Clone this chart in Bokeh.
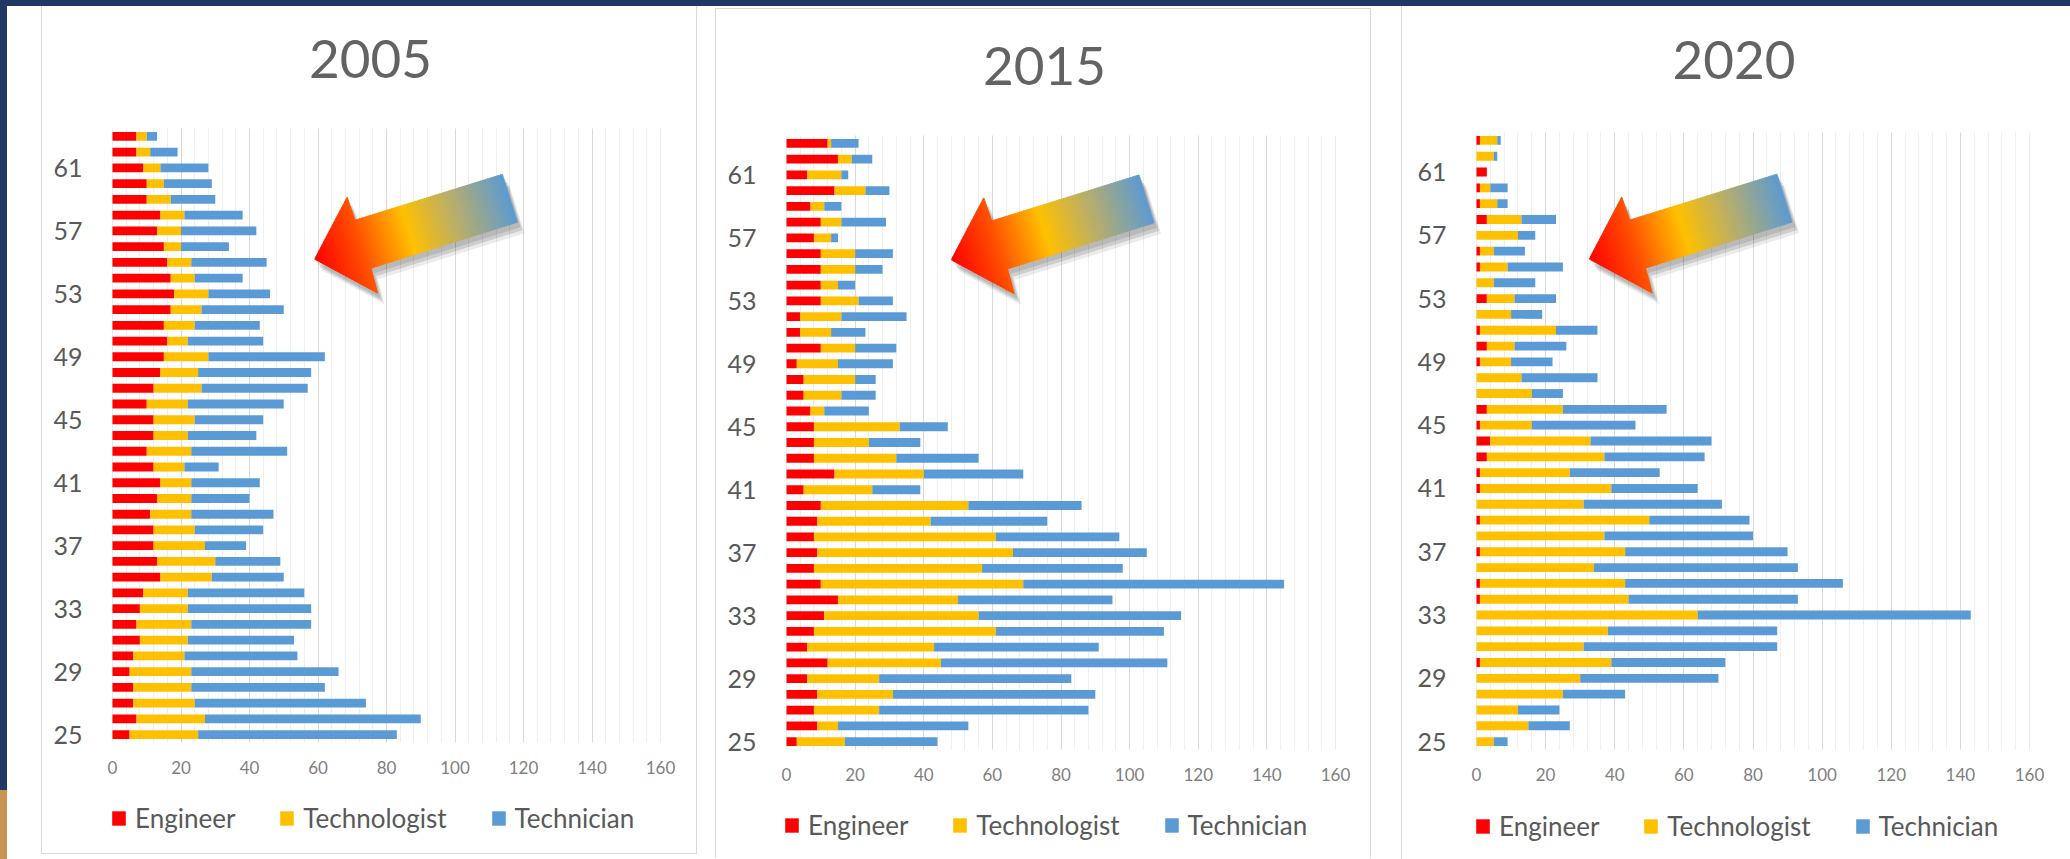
import numpy as np
from bokeh.plotting import figure
from bokeh.layouts import row
from bokeh.models import (Range1d, FixedTicker, SingleIntervalTicker, Legend, LegendItem,
                          ColumnDataSource, Label, BoxAnnotation)
from bokeh.embed import file_html
from bokeh.resources import INLINE

# ---------------- data (ages 25 .. 63, bottom to top) ----------------
ages = list(range(25, 64))
y_ticks = [25, 29, 33, 37, 41, 45, 49, 53, 57, 61]
series = ["Engineer", "Technologist", "Technician"]
colors = ["#FF0000", "#FFC000", "#5B9BD5"]
years = ["2005", "2015", "2020"]

eng_2005 = [5, 7, 6, 6, 5, 6, 8, 7, 8, 9, 14, 13, 12, 12, 11, 13, 14, 12, 10, 12,
            12, 10, 12, 14, 15, 16, 15, 17, 18, 17, 16, 15, 13, 14, 10, 10, 9, 7, 7]
tec_2005 = [20, 20, 18, 17, 18, 15, 14, 16, 14, 13, 15, 17, 15, 12, 12, 10, 9, 9, 13, 10,
            12, 12, 14, 11, 13, 6, 9, 9, 10, 7, 7, 5, 7, 7, 7, 5, 5, 4, 3]
tcn_2005 = [58, 63, 50, 39, 43, 33, 31, 35, 36, 34, 21, 19, 12, 20, 24, 17, 20, 10, 28, 20,
            20, 28, 31, 33, 34, 22, 19, 24, 18, 14, 22, 14, 22, 17, 13, 14, 14, 8, 3]

eng_2015 = [3, 9, 8, 9, 6, 12, 6, 8, 11, 15, 10, 8, 9, 8, 9, 10, 5, 14, 8, 8,
            8, 7, 5, 5, 3, 10, 4, 4, 10, 10, 10, 10, 8, 10, 7, 14, 6, 15, 12]
tec_2015 = [14, 6, 19, 22, 21, 33, 37, 53, 45, 35, 59, 49, 57, 53, 33, 43, 20, 26, 24, 16,
            25, 4, 11, 15, 12, 10, 9, 12, 11, 5, 10, 10, 5, 6, 4, 9, 10, 4, 1]
tcn_2015 = [27, 38, 61, 59, 56, 66, 48, 49, 59, 45, 76, 41, 39, 36, 34, 33, 14, 29, 24, 15,
            14, 13, 10, 6, 16, 12, 10, 19, 10, 5, 8, 11, 2, 13, 5, 7, 2, 6, 8]

eng_2020 = [0, 0, 0, 0, 0, 1, 0, 0, 0, 1, 1, 0, 1, 0, 1, 0, 1, 1, 3, 4,
            1, 3, 0, 0, 1, 3, 1, 0, 3, 0, 1, 1, 0, 3, 1, 1, 3, 0, 1]
tec_2020 = [5, 15, 12, 25, 30, 38, 31, 38, 64, 43, 42, 34, 42, 37, 49, 31, 38, 26, 34, 29,
            15, 22, 16, 13, 9, 8, 22, 10, 8, 5, 8, 4, 12, 10, 5, 3, 0, 5, 5]
tcn_2020 = [4, 12, 12, 18, 40, 33, 56, 49, 79, 49, 63, 59, 47, 43, 29, 40, 25, 26, 29, 35,
            30, 30, 9, 22, 12, 15, 12, 9, 12, 12, 16, 9, 5, 10, 3, 5, 0, 1, 1]

FONT = "Lato"
Y_LO, Y_HI = 24.5, 63.5        # extent of the bar area (ages 25..63 +- half a slot)
X_LO, X_HI = 0, 160
EXT = 16                       # px of frame kept beyond 0 and 160 so end tick labels show

# decorative arrow outline (pixel offsets from the tip, screen y down)
arrow_px = np.array([(0, 0), (32.5, -62), (40.5, -39), (188, -85), (203, -37),
                     (56.5, 9), (63, 34)], dtype=float)
grad_stops = [(0.0, "#FF0000"), (0.22, "#FF4A00"), (0.48, "#FFC000"),
              (0.72, "#B9AE6A"), (1.0, "#5E9BD0")]


def hex_rgb(h):
    h = h.lstrip("#")
    return np.array([int(h[i:i + 2], 16) for i in (0, 2, 4)], dtype=float)


def grad_color(f):
    for (f0, c0), (f1, c1) in zip(grad_stops[:-1], grad_stops[1:]):
        if f <= f1:
            t = (f - f0) / (f1 - f0)
            c = hex_rgb(c0) * (1 - t) + hex_rgb(c1) * t
            return "#%02x%02x%02x" % tuple(int(round(v)) for v in c)
    return grad_stops[-1][1]


def clip_half(poly, fn):
    out = []
    n = len(poly)
    for i in range(n):
        a, b = poly[i], poly[(i + 1) % n]
        fa, fb = fn(a), fn(b)
        if fa >= 0:
            out.append(a)
        if (fa >= 0) != (fb >= 0):
            t = fa / (fa - fb)
            out.append(a + t * (b - a))
    return out


def draw_arrow(p, tip, sx, sy):
    tail_c = (arrow_px[3] + arrow_px[4]) / 2
    u = tail_c / np.linalg.norm(tail_c)
    L = float(np.dot(tail_c, u))

    def to_data(pts, off=(0, 0)):
        xs = [tip[0] + (q[0] + off[0]) / sx for q in pts]
        ys = [tip[1] - (q[1] + off[1]) / sy for q in pts]
        return xs, ys

    for off, a in (((3, 5), 0.10), ((5, 8), 0.12), ((7, 11), 0.08)):
        xs, ys = to_data(arrow_px, off)
        p.patch(xs, ys, fill_color="#000000", fill_alpha=a, line_color=None)

    n = 90
    xs_all, ys_all, cols = [], [], []
    poly = [q for q in arrow_px]
    for i in range(n):
        lo = L * i / n - 0.6
        hi = L * (i + 1) / n + 0.6
        part = clip_half(poly, lambda q, lo=lo: np.dot(q, u) - lo)
        if len(part) < 3:
            continue
        part = clip_half(part, lambda q, hi=hi: hi - np.dot(q, u))
        if len(part) < 3:
            continue
        xs, ys = to_data(part)
        xs_all.append(xs)
        ys_all.append(ys)
        cols.append(grad_color((i + 0.5) / n))
    p.patches(xs_all, ys_all, fill_color=cols, line_color=cols, line_width=0.6)


def panel(year, eng, tec, tcn, W, H, LB, BW, T, BH, tip, title_px, legend_xy, styles, margin):
    """W,H: figure size; LB: px from left edge to x=0; BW: px width of 0..160;
    T: px from top to the bar area; BH: bar area height."""
    sx = BW / float(X_HI - X_LO)
    sy = BH / (Y_HI - Y_LO)
    L = LB - EXT
    R = W - LB - BW - EXT
    x_lo = X_LO - EXT / sx
    x_hi = X_HI + EXT / sx
    y_top = Y_HI + T / sy
    y_bot = Y_LO - (H - T - BH) / sy

    p = figure(width=W, height=H, x_range=Range1d(x_lo, x_hi), y_range=Range1d(y_bot, y_top),
               output_backend="svg", toolbar_location=None,
               min_border_left=L, min_border_right=R, min_border_top=0, min_border_bottom=0,
               background_fill_color="white", border_fill_color="white",
               outline_line_color=None)
    p.margin = margin
    p.styles = styles

    e = np.array(eng, dtype=float)
    t = np.array(tec, dtype=float)
    c = np.array(tcn, dtype=float)
    src = ColumnDataSource(dict(age=ages, e0=np.zeros(len(ages)), e1=e, t1=e + t, c1=e + t + c))

    p.xaxis.ticker = SingleIntervalTicker(interval=20, num_minor_ticks=5)
    p.xaxis.fixed_location = Y_LO
    p.yaxis.ticker = FixedTicker(ticks=y_ticks)
    p.xgrid.grid_line_color = "#d9d9d9"
    p.xgrid.minor_grid_line_color = "#efefef"
    p.ygrid.visible = False

    # keep the vertical grid inside the bar area only
    for kw in (dict(top=Y_LO), dict(bottom=Y_HI), dict(right=X_LO), dict(left=X_HI)):
        p.add_layout(BoxAnnotation(fill_color="white", fill_alpha=1.0,
                                   line_color=None, level="underlay", **kw))

    for ax in (p.xaxis[0], p.yaxis[0]):
        ax.axis_line_color = None
        ax.major_tick_line_color = None
        ax.minor_tick_line_color = None
        ax.major_label_text_font = FONT
    p.xaxis.major_label_text_font_size = "17px"
    p.xaxis.major_label_text_color = "#7f7f7f"
    p.xaxis.major_label_standoff = 12
    p.yaxis.major_label_text_font_size = "25px"
    p.yaxis.major_label_text_color = "#595959"
    p.yaxis.major_label_standoff = 24 - EXT

    draw_arrow(p, tip, sx, sy)

    r1 = p.hbar(y="age", left="e0", right="e1", height=0.56, fill_color=colors[0], line_color=None, source=src)
    r2 = p.hbar(y="age", left="e1", right="t1", height=0.56, fill_color=colors[1], line_color=None, source=src)
    r3 = p.hbar(y="age", left="t1", right="c1", height=0.56, fill_color=colors[2], line_color=None, source=src)

    p.add_layout(Label(x=X_LO + title_px[0] / sx, y=y_top - title_px[1] / sy,
                       text=year, text_align="center", text_baseline="middle",
                       text_font=FONT, text_font_size="53px", text_color="#636363"))

    legend = Legend(items=[LegendItem(label=series[0], renderers=[r1]),
                           LegendItem(label=series[1], renderers=[r2]),
                           LegendItem(label=series[2], renderers=[r3])],
                    orientation="horizontal",
                    location=(legend_xy[0] + EXT, legend_xy[1]),
                    glyph_width=17, glyph_height=18, label_standoff=8, spacing=43,
                    padding=4, margin=0, border_line_color=None,
                    background_fill_alpha=0,
                    label_text_font=FONT, label_text_font_size="26px",
                    label_text_color="#595959")
    p.add_layout(legend)
    return p


GRAY = "1px solid #d9d9d9"
p1 = panel(years[0], eng_2005, tec_2005, tcn_2005, 656, 848, 70, 548, 122, 614, (59.0, 55.2),
           (258, 52), (-2, 20),
           {"border-left": GRAY, "border-right": GRAY, "border-bottom": GRAY}, (6, 0, 0, 41))
p2 = panel(years[1], eng_2015, tec_2015, tcn_2015, 656, 850, 70, 549, 126, 614, (48.0, 55.6),
           (258, 56), (-3, 18),
           {"border-left": GRAY, "border-right": GRAY, "border-top": GRAY}, (8, 0, 0, 18))
p3 = panel(years[2], eng_2020, tec_2020, tcn_2020, 664, 853, 74, 553, 126, 617, (32.6, 55.5),
           (257.5, 53.5), (-2, 17),
           {"border-left": GRAY}, (6, 0, 0, 30))

layout = row(p1, p2, p3)

html = file_html(layout, INLINE)
style = ("<style>html{background:"
         "linear-gradient(#c99352,#c99352) 0 790px / 7px 69px no-repeat,"
         "linear-gradient(to right,#1F3864 7px,rgba(0,0,0,0) 7px),"
         "linear-gradient(to bottom,#1F3864 6px,#ffffff 6px);}</style>")
html = html.replace("</head>", style + "</head>", 1)
open("out.html", "w").write(html)
